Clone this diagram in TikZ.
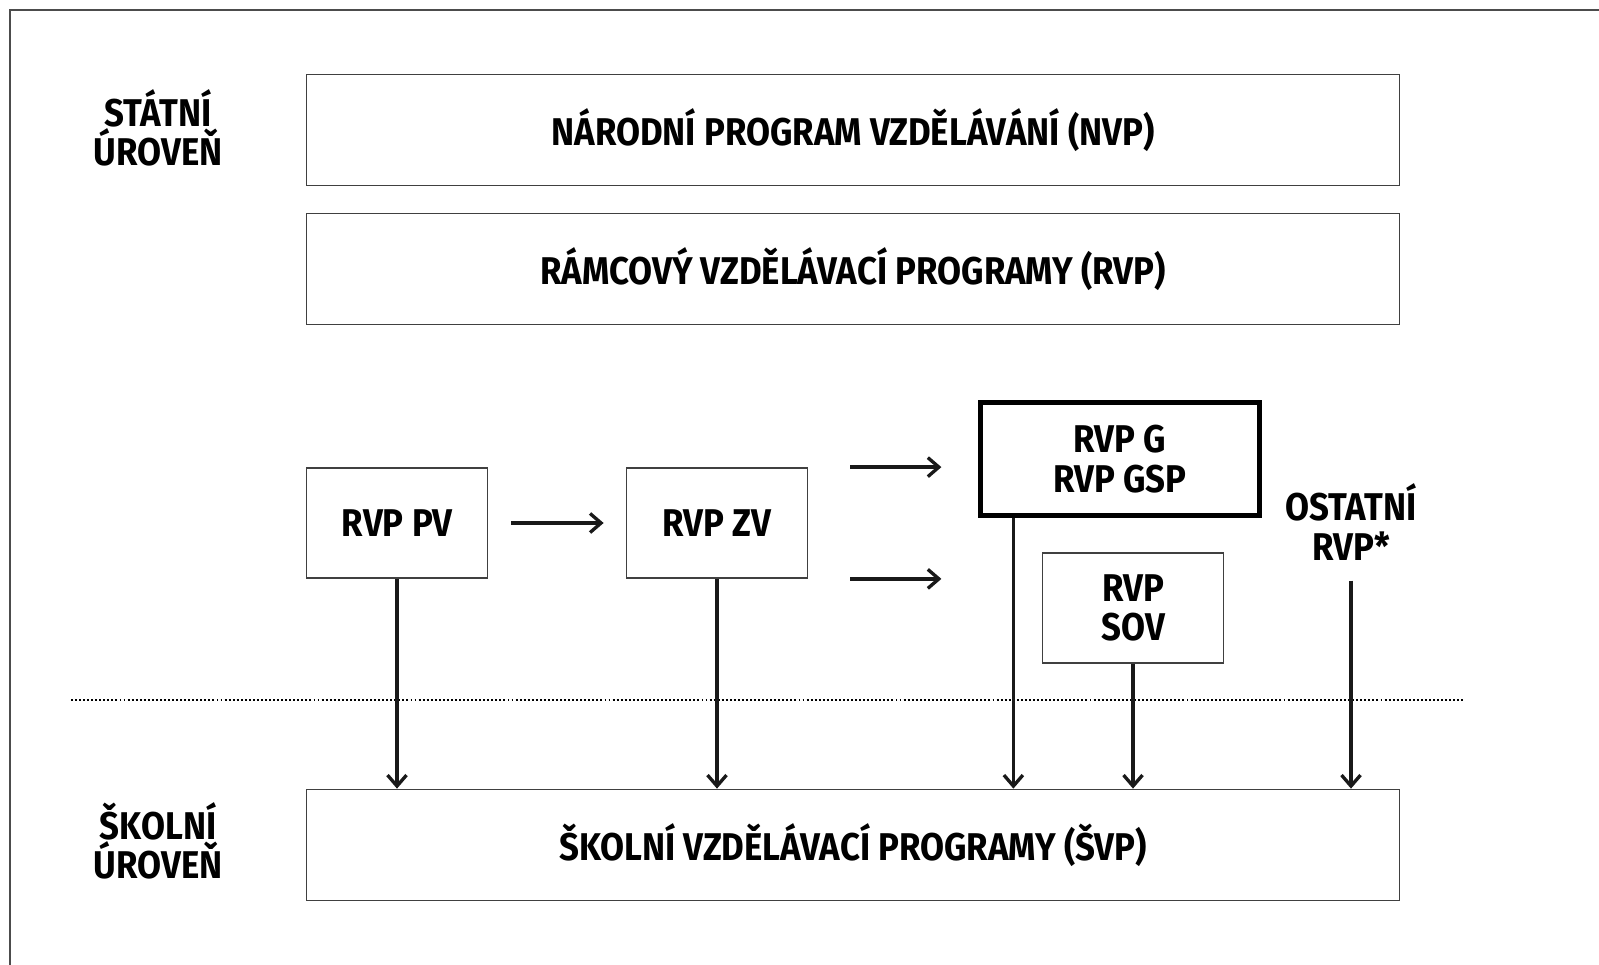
\documentclass[tikz,border=0pt]{standalone}
\usepackage{fontspec}
\setmainfont{Fira Sans}[FakeStretch=0.9]
\usetikzlibrary{arrows.meta, positioning, calc}
\newcommand{\diagfont}{\bfseries\fontsize{11}{11.2}\selectfont}

\begin{document}
\begin{tikzpicture}[
  arrow/.style={-{Straight Barb[length=1.1mm, width=1.9mm]}, line width=0.95pt, black!90},
  frame/.style={draw=black!70, line width=0.5pt},
  hline/.style={black, line width=0.8pt, dash pattern=on 0.55pt off 0.6pt},
  prog/.style={rectangle, draw=black!75, line width=0.5pt, minimum width=10.93cm, minimum height=1.11cm, align=center, font=\diagfont},
  rvp/.style={rectangle, draw=black!75, line width=0.5pt, minimum width=1.81cm, minimum height=1.10cm, align=center, font=\diagfont},
  rvpmain/.style={rvp, draw=black, line width=1.2pt, minimum width=2.79cm, minimum height=1.13cm},
  lvl/.style={align=center, font=\diagfont}
]
\useasboundingbox (0,0) rectangle (15.99,-9.64);
\clip (0,0) rectangle (15.99,-9.64);
\draw[frame] (0.10,-0.10) rectangle (16.5,-10.2);
% state level
\node[lvl] (statni) at (1.58,-1.28) {STÁTNÍ\\ÚROVEŇ};
\node[prog] (nvp) at (8.53,-1.30) {NÁRODNÍ PROGRAM VZDĚLÁVÁNÍ (NVP)};
\node[prog] (rvp) at (8.53,-2.69) {RÁMCOVÝ VZDĚLÁVACÍ PROGRAMY (RVP)};
\node[rvp] (pv) at (3.97,-5.23) {RVP PV};
\node[rvp] (zv) at (7.17,-5.23) {RVP ZV};
\node[rvpmain] (g) at (11.20,-4.59) {RVP G\\RVP GSP};
\node[rvp] (sov) at (11.33,-6.08) {RVP\\SOV};
\node[lvl] (ostatni) at (13.51,-5.22) {OSTATNÍ\\RVP*};
\draw[arrow, shorten >=2.2mm, shorten <=2.3mm] (pv) -- (zv);
\draw[arrow] ([xshift=4.2mm]zv.north east) -- ([xshift=-3.7mm]zv.north east -| g.west);
\draw[arrow] ([xshift=4.2mm]zv.south east) -- ([xshift=-3.7mm]zv.south east -| g.west);
% boundary
\coordinate (dl) at (0.71,-7.00);
\coordinate (dr) at (14.65,-7.00);
\draw[hline] (dl) -- (dr);
% school level
\node[lvl] (skolni) at (1.58,-8.41) {ŠKOLNÍ\\ÚROVEŇ};
\node[prog] (svp) at (8.53,-8.45) {ŠKOLNÍ VZDĚLÁVACÍ PROGRAMY (ŠVP)};
\foreach \n in {pv,zv,sov} \draw[arrow] (\n.south) -- (\n.south |- svp.north);
\draw[arrow] ([xshift=3.5mm]g.south west) -- ([xshift=3.5mm]g.south west |- svp.north);
\draw[arrow, shorten <=0.8mm] (ostatni.south) -- (ostatni.south |- svp.north);
\end{tikzpicture}
\end{document}
